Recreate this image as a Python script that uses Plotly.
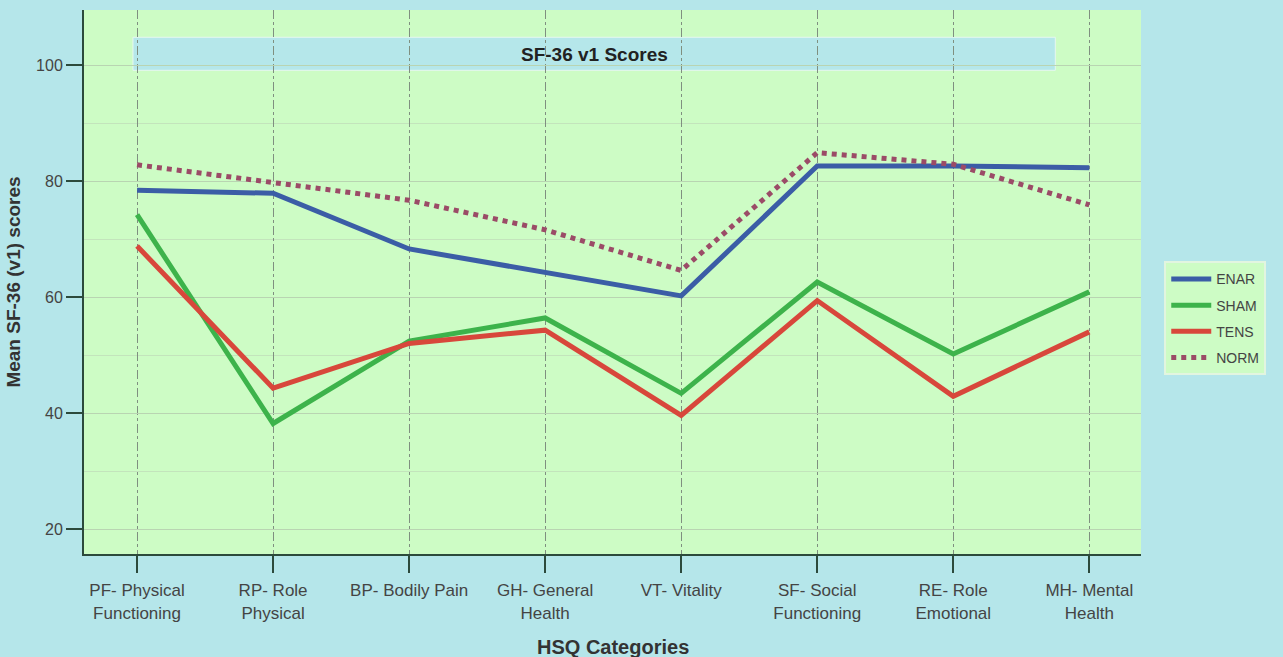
import plotly.graph_objects as go

categories = ["PF- Physical<br>Functioning", "RP- Role<br>Physical", "BP- Bodily Pain",
              "GH- General<br>Health", "VT- Vitality", "SF- Social<br>Functioning",
              "RE- Role<br>Emotional", "MH- Mental<br>Health"]
enar = [78.4, 77.9, 68.3, 64.3, 60.2, 82.6, 82.6, 82.3]
sham = [74.2, 38.2, 52.4, 56.4, 43.4, 62.6, 50.2, 60.9]
tens = [68.8, 44.3, 52.0, 54.3, 39.6, 59.4, 42.9, 54.0]
norm = [82.8, 79.7, 76.7, 71.6, 64.6, 84.9, 82.9, 75.9]

series_names = ["ENAR", "SHAM", "TENS", "NORM"]
series_vals = [enar, sham, tens, norm]
colors = ["#3b5da6", "#3db34b", "#d8473b", "#9b4b67"]
dashes = ["solid", "solid", "solid", "dot"]

x = list(range(len(categories)))

fig = go.Figure()
for name, vals, c, d in zip(series_names, series_vals, colors, dashes):
    fig.add_trace(go.Scatter(x=x, y=vals, mode="lines", name=name, legendgroup=name,
                             line=dict(color=c, width=5, dash=d)))

fig.add_shape(type="rect", xref="x", yref="y", x0=-0.03, x1=6.75, y0=99.1, y1=104.8,
              fillcolor="#b5e7ea", line=dict(color="#e6f7f0", width=1), layer="below")
fig.add_annotation(x=3.36, y=101.9, xref="x", yref="y", text="<b>SF-36 v1 Scores</b>",
                   showarrow=False, font=dict(family="Liberation Sans, Arial", size=19, color="#222"))
fig.add_annotation(x=0.5, y=-0.171, xref="paper", yref="paper", yanchor="middle",
                   text="<b>HSQ Categories</b>", showarrow=False,
                   font=dict(family="Liberation Sans, Arial", size=20, color="#333"))

fig.update_layout(
    width=1283, height=657,
    paper_bgcolor="#b5e6ea", plot_bgcolor="#cdfcc5",
    margin=dict(l=84, r=142, t=10, b=103),
    font=dict(family="Liberation Sans, Arial", size=16, color="#444"),
    legend=dict(x=1.022, y=0.538, xanchor="left", yanchor="top",
                bgcolor="#cdfcc5", bordercolor="#e2f5e0", borderwidth=2,
                font=dict(size=14, color="#444"), itemwidth=40, tracegroupgap=5),
    xaxis=dict(range=[-0.39, 7.38], tickvals=x, ticktext=categories, tickangle=0,
               tickfont=dict(size=17),
               showgrid=True, gridcolor="#7f8f80", griddash="dashdot", gridwidth=1,
               showline=True, linecolor="#2c4a3c", linewidth=2,
               ticks="outside", ticklen=17, tickcolor="#2c4a3c", tickwidth=2,
               ticklabelstandoff=3, automargin=False,
               zeroline=False),
    yaxis=dict(range=[15.7, 109.5], tickvals=[20, 40, 60, 80, 100],
               tickfont=dict(size=16),
               showgrid=True, gridcolor="#b9d4b2", gridwidth=1,
               minor=dict(dtick=10, showgrid=True, gridcolor="#c3e4bc", gridwidth=1),
               showline=True, linecolor="#2c4a3c", linewidth=2,
               ticks="outside", ticklen=16, tickcolor="#2c4a3c", tickwidth=2,
               zeroline=False,
               title=dict(text="<b>Mean SF-36 (v1) scores</b>", font=dict(size=19, color="#333"), standoff=10)),
)

fig.write_html("out.html", config={"displayModeBar": False},
               post_script="document.body.style.margin='0';")
